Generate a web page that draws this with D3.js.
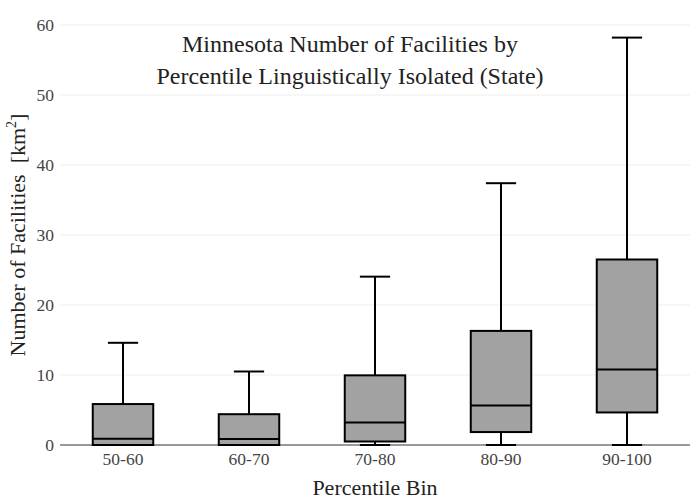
<!DOCTYPE html>
<html>
<head>
<meta charset="utf-8">
<script src="https://cdn.jsdelivr.net/npm/d3@7"></script>
<style>
  body { margin: 0; background: #fff; }
</style>
</head>
<body>
<svg id="chart" width="700" height="500"></svg>
<script>
const bins = ["50-60", "60-70", "70-80", "80-90", "90-100"];
const lowerWhisker = [0, 0, 0, 0, 0];
const q1 = [0, 0, 0.5, 1.85, 4.65];
const median = [0.9, 0.85, 3.2, 5.65, 10.8];
const q3 = [5.85, 4.4, 9.95, 16.3, 26.5];
const upperWhisker = [14.6, 10.5, 24.05, 37.4, 58.2];
const yTicks = [0, 10, 20, 30, 40, 50, 60];

const FONT = "'Liberation Serif', 'Times New Roman', serif";

const boxes = bins.map((b, i) => ({
  bin: b, lo: lowerWhisker[i], q1: q1[i], med: median[i], q3: q3[i], hi: upperWhisker[i]
}));

const svg = d3.select("#chart");
const margin = {left: 60, right: 10, top: 25, bottom: 55};
const width = 700, height = 500;

const x = d3.scaleBand()
  .domain(bins)
  .range([margin.left, width - margin.right]);

const y = d3.scaleLinear()
  .domain([0, 60])
  .range([height - margin.bottom, margin.top]);

// grid
svg.append("g").selectAll("line").data(yTicks.filter(d => d > 0)).enter().append("line")
  .attr("x1", margin.left).attr("x2", width - margin.right)
  .attr("y1", d => y(d)).attr("y2", d => y(d))
  .attr("stroke", "#eee").attr("stroke-width", 1);

// y axis labels
const yAxis = svg.append("g")
  .attr("transform", `translate(${margin.left},0)`)
  .call(d3.axisLeft(y).tickValues(yTicks).tickSize(0).tickPadding(6))
  .attr("font-family", FONT);
yAxis.select(".domain").remove();
yAxis.selectAll("text").attr("font-size", 17.5).attr("fill", "#444")
  .style("font-family", FONT);

// zero line
svg.append("line")
  .attr("x1", margin.left).attr("x2", width - margin.right)
  .attr("y1", y(0)).attr("y2", y(0))
  .attr("stroke", "#999").attr("stroke-width", 2);

// x axis labels
const xAxis = svg.append("g")
  .attr("transform", `translate(0,${y(0)})`)
  .call(d3.axisBottom(x).tickSize(0).tickPadding(8))
  .attr("font-family", FONT);
xAxis.select(".domain").remove();
xAxis.selectAll("text").attr("font-size", 17.5).attr("fill", "#444")
  .style("font-family", FONT);

// boxes
const boxW = x.bandwidth() * 0.48;
const capW = boxW / 2;
const g = svg.append("g").selectAll("g").data(boxes).enter().append("g")
  .attr("transform", d => `translate(${x(d.bin) + x.bandwidth() / 2},0)`);

g.append("line")
  .attr("x1", 0).attr("x2", 0)
  .attr("y1", d => y(d.hi)).attr("y2", d => y(d.q3))
  .attr("stroke", "#000").attr("stroke-width", 2);
g.append("line")
  .attr("x1", 0).attr("x2", 0)
  .attr("y1", d => y(d.q1)).attr("y2", d => y(d.lo))
  .attr("stroke", "#000").attr("stroke-width", 2);
g.append("line")
  .attr("x1", -capW / 2).attr("x2", capW / 2)
  .attr("y1", d => y(d.hi)).attr("y2", d => y(d.hi))
  .attr("stroke", "#000").attr("stroke-width", 2);
g.append("line")
  .attr("x1", -capW / 2).attr("x2", capW / 2)
  .attr("y1", d => y(d.lo)).attr("y2", d => y(d.lo))
  .attr("stroke", "#000").attr("stroke-width", 2);
g.append("rect")
  .attr("x", -boxW / 2).attr("width", boxW)
  .attr("y", d => y(d.q3)).attr("height", d => y(d.q1) - y(d.q3))
  .attr("fill", "#a2a2a2").attr("stroke", "#000").attr("stroke-width", 2);
g.append("line")
  .attr("x1", -boxW / 2).attr("x2", boxW / 2)
  .attr("y1", d => y(d.med)).attr("y2", d => y(d.med))
  .attr("stroke", "#000").attr("stroke-width", 2);

// title
const title = svg.append("text")
  .attr("x", 350).attr("text-anchor", "middle")
  .style("font-family", FONT)
  .attr("font-size", 24).attr("fill", "#222");
title.append("tspan").attr("x", 350).attr("y", 52).text("Minnesota Number of Facilities by");
title.append("tspan").attr("x", 350).attr("y", 84).text("Percentile Linguistically Isolated (State)");

// axis titles
svg.append("text")
  .attr("x", x.range()[0] + (x.range()[1] - x.range()[0]) / 2)
  .attr("y", 495).attr("text-anchor", "middle")
  .style("font-family", FONT)
  .attr("font-size", 22).attr("fill", "#222")
  .text("Percentile Bin");

const yl = svg.append("text")
  .attr("transform", `translate(25,${(y(0) + y(60)) / 2}) rotate(-90)`)
  .attr("text-anchor", "middle")
  .style("font-family", FONT)
  .attr("font-size", 22).attr("fill", "#222");
yl.append("tspan").text("Number of Facilities\u00a0\u00a0[km");
yl.append("tspan").attr("font-size", 14).attr("dy", -9).text("2");
yl.append("tspan").attr("dy", 9).text("]");
</script>
</body>
</html>
